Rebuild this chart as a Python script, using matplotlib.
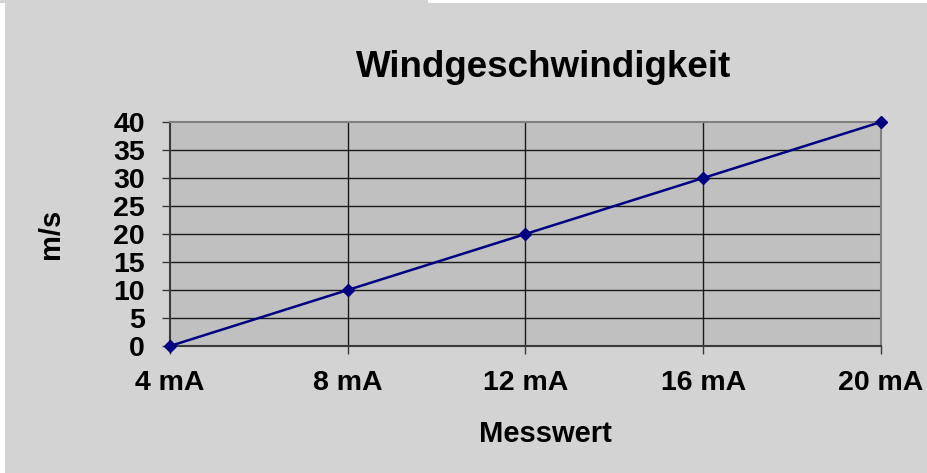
import matplotlib.pyplot as plt
from matplotlib.patches import Rectangle

# Messwerte (Stromsignal) und Windgeschwindigkeit
strom_ma = [4, 8, 12, 16, 20]
wind_ms = [0, 10, 20, 30, 40]
x_labels = ['4 mA', '8 mA', '12 mA', '16 mA', '20 mA']
y_ticks = [0, 5, 10, 15, 20, 25, 30, 35, 40]

plt.rcParams['font.family'] = ['Liberation Sans', 'DejaVu Sans']
plt.rcParams['font.weight'] = 'bold'

W, H = 928, 473
fig = plt.figure(figsize=(W / 100, H / 100), dpi=100)
fig.patch.set_facecolor('#d3d3d3')

# weisse Raender oben rechts und links
fig.patches.append(Rectangle((0, 0), 5 / W, (H - 3) / H, transform=fig.transFigure,
                             facecolor='white', edgecolor='none', zorder=0))
fig.patches.append(Rectangle((428 / W, (H - 3) / H), 1 - 428 / W, 3 / H, transform=fig.transFigure,
                             facecolor='white', edgecolor='none', zorder=0))

ax = fig.add_axes([170 / W, 1 - 346 / H, (881 - 170) / W, (346 - 122) / H])
ax.set_facecolor('#c0c0c0')

ax.plot(strom_ma, wind_ms, color='#000080', linewidth=1.8, marker='D',
        markersize=6.5, markerfacecolor='#000080', markeredgecolor='#000080',
        clip_on=False, zorder=5)

ax.set_xlim(4, 20)
ax.set_ylim(0, 40)
ax.set_xticks(strom_ma)
ax.set_xticklabels(x_labels)
ax.set_yticks(y_ticks)

# Gitterlinien
for v in y_ticks[1:-1]:
    ax.axhline(v, color='#1a1a1a', linewidth=1.0, zorder=1)
for v in strom_ma[1:-1]:
    ax.axvline(v, color='#1a1a1a', linewidth=1.0, zorder=1)

for side in ['left', 'bottom']:
    ax.spines[side].set_color('#3a3a3a')
    ax.spines[side].set_linewidth(1.5)
for side in ['top', 'right']:
    ax.spines[side].set_color('#808080')
    ax.spines[side].set_linewidth(1.5)

ax.tick_params(axis='both', direction='out', length=6, width=1, color='#3a3a3a',
               labelsize=20.5)
ax.tick_params(axis='y', pad=12)
ax.tick_params(axis='x', pad=11.5)
for lab in ax.get_xticklabels() + ax.get_yticklabels():
    lab.set_fontweight('bold')

fig.text(544 / W, 1 - 77 / H, 'Windgeschwindigkeit', ha='center', va='baseline',
         fontsize=26.5, fontweight='bold')
fig.text(545 / W, 1 - 442 / H, 'Messwert', ha='center', va='baseline',
         fontsize=21, fontweight='bold')
fig.text(51 / W, 1 - 234 / H, 'm/s', ha='center', va='center', rotation=90,
         fontsize=21, fontweight='bold')

plt.savefig('out.png', dpi=100, facecolor=fig.get_facecolor())
